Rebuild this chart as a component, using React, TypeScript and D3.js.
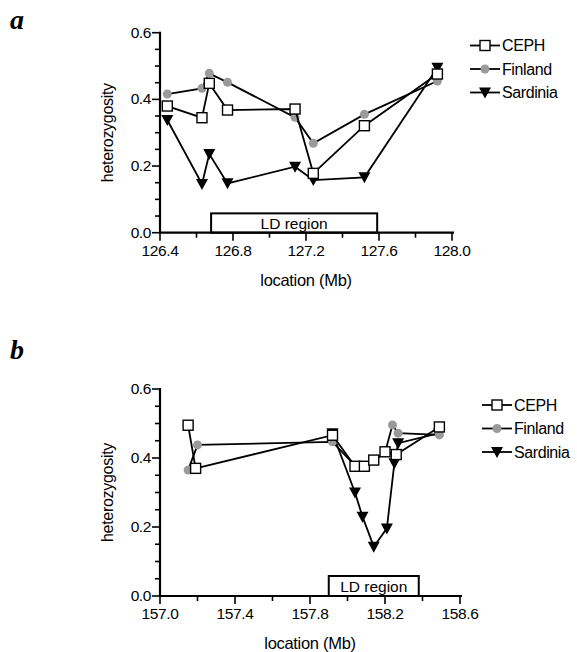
import React from 'react';
import * as d3 from 'd3';

// panel a data (location Mb, heterozygosity)
const cephA = [
  [126.44, 0.38], [126.63, 0.345], [126.67, 0.448], [126.77, 0.368],
  [127.14, 0.371], [127.24, 0.178], [127.52, 0.321], [127.92, 0.476],
];
const finlandA = [
  [126.44, 0.416], [126.63, 0.433], [126.67, 0.478], [126.77, 0.451],
  [127.14, 0.346], [127.24, 0.268], [127.52, 0.355], [127.92, 0.455],
];
const sardiniaA = [
  [126.44, 0.338], [126.63, 0.146], [126.67, 0.236], [126.77, 0.148],
  [127.14, 0.198], [127.24, 0.158], [127.52, 0.166], [127.92, 0.495],
];
const ldA = [126.68, 127.59];
const xTicksA = [126.4, 126.8, 127.2, 127.6, 128.0];

// panel b data
const cephB = [
  [157.15, 0.495], [157.19, 0.37], [157.92, 0.466], [158.04, 0.376],
  [158.09, 0.376], [158.14, 0.394], [158.2, 0.418], [158.26, 0.41],
  [158.49, 0.49],
];
const finlandB = [
  [157.15, 0.365], [157.2, 0.438], [157.92, 0.447], [158.04, 0.378],
  [158.09, 0.378], [158.14, 0.392], [158.2, 0.415], [158.24, 0.496],
  [158.27, 0.472], [158.49, 0.467],
];
const sardiniaB = [
  [157.92, 0.472], [158.04, 0.3], [158.08, 0.23],
  [158.14, 0.143], [158.21, 0.196], [158.25, 0.385], [158.27, 0.443],
  [158.49, 0.472],
];
const ldB = [157.9, 158.38];
const xTicksB = [157.0, 157.4, 157.8, 158.2, 158.6];

const yTicks = [0.0, 0.2, 0.4, 0.6];
const seriesNames = ['CEPH', 'Finland', 'Sardinia'];

const FONT = '"Liberation Sans", Arial, sans-serif';

type Pt = number[];

const Square = ({ x, y }: { x: number; y: number }) => (
  <rect x={x - 5} y={y - 5} width={10} height={10} fill="#fff" stroke="#000" strokeWidth={1.4} />
);
const Dot = ({ x, y }: { x: number; y: number }) => <circle cx={x} cy={y} r={4.5} fill="#9a9a9a" />;
const Tri = ({ x, y }: { x: number; y: number }) => (
  <path d={`M${x - 6},${y - 5}L${x + 6},${y - 5}L${x},${y + 6}Z`} fill="#000" />
);

const markers = [Square, Dot, Tri];

function Panel(props: {
  top: number;
  label: string;
  domain: number[];
  xTicks: number[];
  series: Pt[][];
  ld: number[];
  x0: number;
  x1: number;
  y0: number;
  y1: number;
  legendX: number;
  legendY: number;
}) {
  const { top, label, domain, xTicks, series, ld, x0, x1, y0, y1, legendX, legendY } = props;
  const x = d3.scaleLinear().domain(domain).range([x0, x1]);
  const y = d3.scaleLinear().domain([0, 0.6]).range([y0, y1]);
  const line = d3.line<Pt>().x(d => x(d[0])).y(d => y(d[1]));
  const minorX = d3.range(domain[0], domain[1] + 0.001, 0.2);
  const minorY = d3.range(0, 0.6001, 0.05);
  // draw order: Sardinia under, then Finland, then CEPH on top
  const order = [2, 1, 0];
  return (
    <g>
      <text x={10} y={top} fontFamily='"Liberation Serif", serif' fontStyle="italic" fontWeight="bold" fontSize={28}>
        {label}
      </text>
      {/* LD region box */}
      <rect x={x(ld[0])} y={y(0.058)} width={x(ld[1]) - x(ld[0])} height={y(0) - y(0.058)} fill="#fff" stroke="#000" strokeWidth={2} />
      <text x={(x(ld[0]) + x(ld[1])) / 2} y={y(0) - 4} textAnchor="middle" fontFamily={FONT} fontSize={15.5}>
        LD region
      </text>
      {/* axes */}
      <line x1={x0} x2={x0} y1={y0} y2={y1 - 1} stroke="#000" strokeWidth={2.2} />
      <line x1={x0 - 1} x2={x1 + 2} y1={y0} y2={y0} stroke="#000" strokeWidth={2.2} />
      {minorY.map((t, i) => (
        <line key={'my' + i} x1={x0 - (i % 4 === 0 ? 8 : 5)} x2={x0} y1={y(t)} y2={y(t)} stroke="#000" strokeWidth={1.6} />
      ))}
      {minorX.map((t, i) => (
        <line key={'mx' + i} x1={x(t)} x2={x(t)} y1={y0} y2={y0 + (i % 2 === 0 ? 8 : 5)} stroke="#000" strokeWidth={1.6} />
      ))}
      {yTicks.map(t => (
        <text key={'yt' + t} x={x0 - 9} y={y(t) + 5} textAnchor="end" fontFamily={FONT} fontSize={15.5} letterSpacing={-0.4}>
          {t.toFixed(1)}
        </text>
      ))}
      {xTicks.map(t => (
        <text key={'xt' + t} x={x(t)} y={y0 + 23} textAnchor="middle" fontFamily={FONT} fontSize={15.5} letterSpacing={-0.4}>
          {t.toFixed(1)}
        </text>
      ))}
      <text
        transform={`translate(${x0 - 47},${(y0 + y1) / 2}) rotate(-90)`}
        textAnchor="middle"
        fontFamily={FONT}
        fontSize={16}
        letterSpacing={-0.3}
      >
        heterozygosity
      </text>
      <text x={(x0 + x1) / 2} y={y0 + 53} textAnchor="middle" fontFamily={FONT} fontSize={16.5} letterSpacing={-0.3}>
        location (Mb)
      </text>
      {/* lines and markers, one series at a time */}
      {order.map(k => {
        const M = markers[k];
        return (
          <g key={'s' + k}>
            <path d={line(series[k]) || ''} fill="none" stroke="#000" strokeWidth={1.8} />
            {series[k].map((d, i) => (
              <M key={'p' + i} x={x(d[0])} y={y(d[1])} />
            ))}
          </g>
        );
      })}
      {/* legend */}
      {seriesNames.map((n, i) => {
        const M = markers[i];
        const ly = legendY + i * 23.5;
        return (
          <g key={n}>
            <line x1={legendX} x2={legendX + 30} y1={ly} y2={ly} stroke="#000" strokeWidth={1.8} />
            <M x={legendX + 15} y={ly} />
            <text x={legendX + 32} y={ly + 5.5} fontFamily={FONT} fontSize={16} letterSpacing={-0.4}>
              {n}
            </text>
          </g>
        );
      })}
    </g>
  );
}

export default function App() {
  return (
    <svg width={577} height={652} style={{ position: 'absolute', left: 0, top: 0, background: '#fff' }}>
      <rect width={577} height={652} fill="#fff" />
      <Panel
        top={29}
        label="a"
        domain={[126.4, 128.0]}
        xTicks={xTicksA}
        series={[cephA, finlandA, sardiniaA]}
        ld={ldA}
        x0={160}
        x1={452}
        y0={232.7}
        y1={32.7}
        legendX={470}
        legendY={45.5}
      />
      <Panel
        top={359}
        label="b"
        domain={[157.0, 158.6]}
        xTicks={xTicksB}
        series={[cephB, finlandB, sardiniaB]}
        ld={ldB}
        x0={160}
        x1={460}
        y0={596}
        y1={389}
        legendX={482}
        legendY={405}
      />
    </svg>
  );
}
